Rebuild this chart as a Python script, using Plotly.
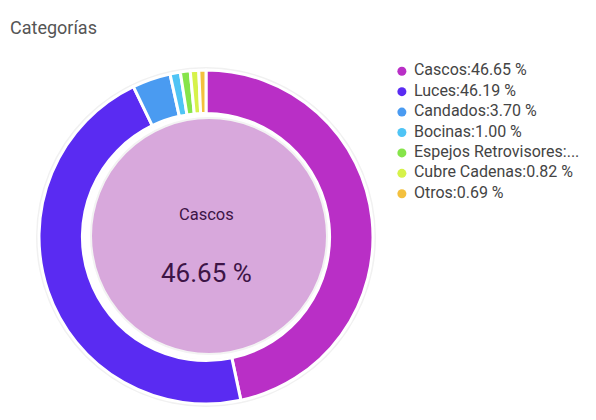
import plotly.graph_objects as go

W, H = 596, 420

categories = ["Cascos", "Luces", "Candados", "Bocinas",
              "Espejos Retrovisores", "Cubre Cadenas", "Otros"]
percentages = [46.65, 46.19, 3.70, 1.00, 0.95, 0.82, 0.69]
colors = ["#b92fc6", "#5a2bf2", "#4a9bf1", "#4fc4f5",
          "#86e44a", "#d6f24a", "#f3c03e"]


def legend_label(name, val):
    txt = f"{name}:{val:.2f} %"
    if len(txt) > 24:
        txt = f"{name}:..."
    return txt


def px_dom(c, r, size):
    return [(c - r) / size, (c + r) / size]


# ring geometry in pixels
cx, cy, r_out = 206, 237, 167
disc_cx, disc_cy, disc_r = 209, 236, 118

fig = go.Figure()

# soft shadow behind the ring
fig.add_trace(go.Pie(
    values=[1], labels=["shadow"], hole=0.72,
    marker=dict(colors=["#f1f1f1"], line=dict(width=0)),
    textinfo="none", hoverinfo="skip", showlegend=False, sort=False,
    domain=dict(x=px_dom(cx, r_out + 3, W), y=px_dom(H - cy, r_out + 3, H)),
))

fig.add_trace(go.Pie(
    labels=categories, values=percentages, hole=0.74,
    sort=False, direction="clockwise", rotation=0,
    marker=dict(colors=colors, line=dict(color="white", width=3)),
    textinfo="none", showlegend=False,
    domain=dict(x=px_dom(cx, r_out, W), y=px_dom(H - cy, r_out, H)),
))

# inner disc
fig.add_trace(go.Pie(
    values=[1], labels=["centro"],
    marker=dict(colors=["#d8a8dc"], line=dict(color="#f3f3f3", width=2)),
    textinfo="none", hoverinfo="skip", showlegend=False, sort=False,
    domain=dict(x=px_dom(disc_cx, disc_r, W), y=px_dom(H - disc_cy, disc_r, H)),
))

# legend drawn as marker column + label column on a hidden axis
rows = list(range(len(categories)))
fig.add_trace(go.Scatter(
    x=[0] * len(categories), y=rows, mode="markers",
    marker=dict(color=colors, size=9, symbol="circle"),
    hoverinfo="skip", showlegend=False, cliponaxis=False,
))
fig.add_trace(go.Scatter(
    x=[0.062] * len(categories), y=rows, mode="text",
    text=[legend_label(n, v) for n, v in zip(categories, percentages)],
    textposition="middle right",
    textfont=dict(size=16, color="#444444"),
    hoverinfo="skip", showlegend=False, cliponaxis=False,
))

fig.add_annotation(
    x=206 / W, y=1 - 215 / H, xref="paper", yref="paper",
    text=categories[0], showarrow=False,
    font=dict(size=16.5, color="#3d1446"),
)
fig.add_annotation(
    x=206 / W, y=1 - 273 / H, xref="paper", yref="paper",
    text=f"{percentages[0]:.2f} %", showarrow=False,
    font=dict(size=26, color="#3d1446"),
)

fig.update_layout(
    width=W, height=H,
    margin=dict(l=0, r=0, t=0, b=0),
    paper_bgcolor="white", plot_bgcolor="rgba(0,0,0,0)",
    font=dict(family="Roboto", color="#444444"),
    title=dict(text="Categorías", x=10 / W, xanchor="left",
               y=1 - 28 / H, yanchor="middle",
               font=dict(size=18, color="#555555")),
    xaxis=dict(visible=False, domain=[398 / W, 1], range=[-0.02, 1]),
    yaxis=dict(visible=False, domain=[1 - 204 / H, 1 - 61 / H],
               range=[len(categories) - 0.5, -0.5]),
    showlegend=False,
)

fig.write_html("out.html", config={"displayModeBar": False},
               post_script="document.body.style.margin='0';")
